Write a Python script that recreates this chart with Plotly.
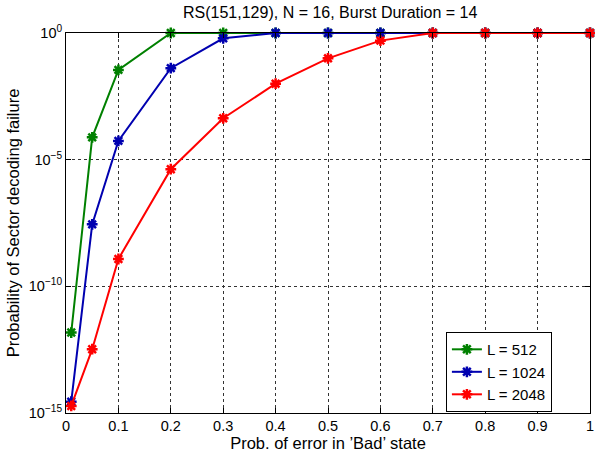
import plotly.graph_objects as go

x_vals = [0.01, 0.05, 0.1, 0.2, 0.3, 0.4, 0.5, 0.6, 0.7, 0.8, 0.9, 1.0]
L512 = [1.5e-12, 7.6e-5, 3.5e-2, 1, 1, 1, 1, 1, 1, 1, 1, 1]
L1024 = [2.8e-15, 2.8e-8, 5.5e-5, 4.1e-2, 0.62, 1, 1, 1, 1, 1, 1, 1]
L2048 = [1.9e-15, 3.3e-13, 1.2e-9, 4.2e-6, 4.3e-4, 1.0e-2, 0.1, 0.5, 1, 1, 1, 1]

series_names = ["L = 512", "L = 1024", "L = 2048"]
series_vals = [L512, L1024, L2048]
colors = ["#008000", "#0000B0", "#FF0000"]

x_ticks = [0, 0.1, 0.2, 0.3, 0.4, 0.5, 0.6, 0.7, 0.8, 0.9, 1]
x_ticktext = ["0", "0.1", "0.2", "0.3", "0.4", "0.5", "0.6", "0.7", "0.8", "0.9", "1"]
y_ticks = [1e-15, 1e-10, 1e-5, 1]
y_ticktext = ["10<sup>\u221215</sup>", "10<sup>\u221210</sup>", "10<sup>\u22125</sup>", "10<sup>0</sup>"]

fig = go.Figure()
for name, vals, c in zip(series_names, series_vals, colors):
    fig.add_trace(go.Scatter(
        x=x_vals, y=vals, name=name, mode="lines+markers",
        line=dict(color=c, width=2),
        marker=dict(symbol="asterisk-open", size=9, color=c, line=dict(color=c, width=2.5)),
        cliponaxis=False,
    ))

font = "Liberation Sans, Arial, Helvetica, sans-serif"
fig.update_layout(
    width=595, height=459,
    margin=dict(l=66, r=5, t=33, b=46, autoexpand=False),
    paper_bgcolor="white", plot_bgcolor="white",
    font=dict(family=font, size=14, color="black"),
    title=dict(text="RS(151,129), N = 16, Burst Duration = 14", x=0.555, xanchor="center",
               y=0.985, yanchor="top", yref="container", pad=dict(t=0, b=0),
               font=dict(size=16)),
    showlegend=True,
    legend=dict(x=0.725, y=0.213, xanchor="left", yanchor="top",
                bordercolor="black", borderwidth=1, bgcolor="white",
                font=dict(size=15), tracegroupgap=0),
)
fig.update_xaxes(
    range=[0, 1], tickvals=x_ticks, ticktext=x_ticktext, automargin=False,
    showline=True, linecolor="black", linewidth=1, mirror="ticks",
    ticks="inside", ticklen=5, tickcolor="black", ticklabeloverflow="allow",
    showgrid=True, gridcolor="#333333", griddash="dot", gridwidth=1,
    zeroline=False, tickfont=dict(size=14.5),
    title=dict(text="Prob. of error in \u2019Bad\u2019 state", font=dict(size=16.5), standoff=2),
)
fig.update_yaxes(
    type="log", range=[-15, 0], tickvals=y_ticks, ticktext=y_ticktext, automargin=False,
    showline=True, linecolor="black", linewidth=1, mirror="ticks",
    ticks="inside", ticklen=5, tickcolor="black",
    showgrid=True, gridcolor="#333333", griddash="dot", gridwidth=1,
    zeroline=False, tickfont=dict(size=14.5),
    title=dict(text="Probability of Sector decoding failure", font=dict(size=16.5), standoff=4),
)
fig.write_html(
    "out.html",
    config={"displayModeBar": False},
    post_script="document.body.style.margin='0';document.body.style.overflow='hidden';"
                "document.documentElement.style.overflow='hidden';",
)
